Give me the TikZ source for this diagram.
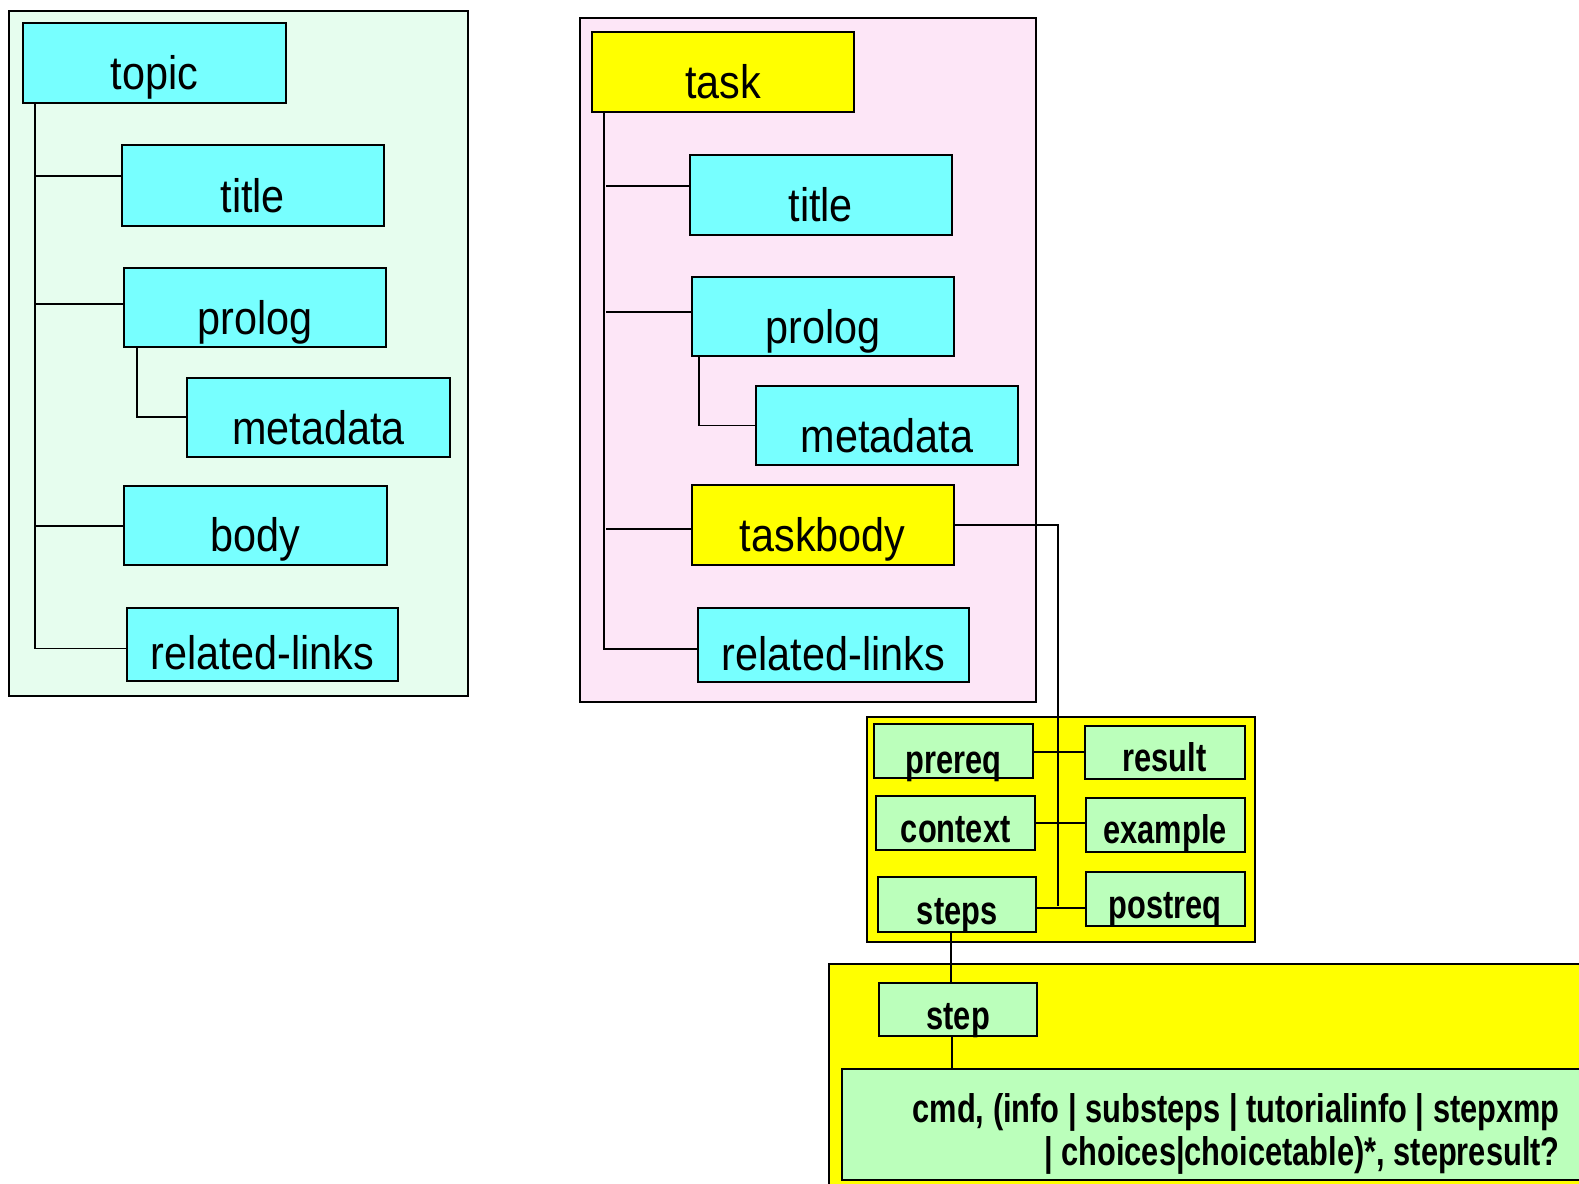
\documentclass[tikz,border=0pt]{standalone}
\usepackage{fontspec}
\newfontfamily\lblfont{Liberation Sans}[FakeStretch=0.88]
\newfontfamily\boldlblfont{Liberation Sans}[FakeStretch=0.77]
\definecolor{cyanbox}{RGB}{119,255,255}
\definecolor{greenbg}{RGB}{230,253,238}
\definecolor{pinkbg}{RGB}{253,230,247}
\definecolor{ylw}{RGB}{255,255,0}
\definecolor{greenbox}{RGB}{187,255,187}
\def\sc{1.007}
\newcommand\bx[8]{%
  \pgfmathsetmacro\bxw{(#5-#3)*\sc}\pgfmathsetmacro\bxh{(#6-#4)*\sc}\pgfmathsetmacro\bxth{(#6-#4-2*#7)*\sc}%
  \node[#2, minimum width=\bxw pt, minimum height=\bxh pt, text height=\bxth pt, text depth=0pt]
    (#1) at ({(#3+#5)/2},{(#4+#6)/2}) {#8};}
\tikzset{
  panel/.style={draw, line width=2pt, rectangle, inner sep=0pt},
  bigbox/.style={draw, line width=2pt, rectangle, inner sep=0pt, font=\lblfont\fontsize{47}{51}\selectfont},
  smallbox/.style={draw, line width=2pt, rectangle, inner sep=0pt, fill=greenbox, font=\boldlblfont\bfseries\fontsize{40}{44}\selectfont},
  conn/.style={line width=1.9pt},
  cmdtxt/.style={inner sep=0pt, font=\boldlblfont\bfseries\fontsize{40}{44}\selectfont}
}
\begin{document}
\begin{tikzpicture}[x=1.007pt,y=-1.007pt]
\useasboundingbox (0,0) rectangle (1568,1174.8);
% ---------- left panel ----------
\bx{lpanel}{panel, fill=greenbg}{9}{11}{465}{691}{0}{}
\bx{topic}{bigbox, fill=cyanbox}{23}{23}{284}{102}{13}{topic}
\bx{ltitle}{bigbox, fill=cyanbox}{121}{144}{381}{224}{13}{title}
\bx{lprolog}{bigbox, fill=cyanbox}{123}{266}{383}{345}{13}{prolog}
\bx{lmeta}{bigbox, fill=cyanbox}{186}{375}{447}{454}{13}{metadata}
\bx{lbody}{bigbox, fill=cyanbox}{123}{483}{384}{561}{13}{body}
\bx{lrl}{bigbox, fill=cyanbox}{126}{604}{395}{676}{11}{related-links}
\coordinate (ltrunk) at (35,102);
\draw[conn] (ltrunk) |- ([yshift=-4pt]lrl.west);
\draw[conn] (ltitle.west) ++(0,-9) -- ++(-84,0);
\draw[conn] (lprolog.west) ++(0,-4) -- ++(-86,0);
\draw[conn] (lbody.west) -- (lbody.west -| ltrunk);
\draw[conn] (lprolog.south west) ++(14,0) |- (lmeta.west);
% ---------- middle panel ----------
\bx{mpanel}{panel, fill=pinkbg}{576}{18}{1029}{697}{0}{}
\bx{task}{bigbox, fill=ylw}{588}{32}{848}{111}{13}{task}
\bx{mtitle}{bigbox, fill=cyanbox}{685}{154}{945}{233}{13}{title}
\bx{mprolog}{bigbox, fill=cyanbox}{687}{275}{947}{354}{13}{prolog}
\bx{mmeta}{bigbox, fill=cyanbox}{751}{383}{1011}{462}{13}{metadata}
\bx{taskbody}{bigbox, fill=ylw}{687}{482}{947}{561}{13}{taskbody}
\bx{mrl}{bigbox, fill=cyanbox}{693}{604}{962}{677}{11}{related-links}
\coordinate (mtrunk) at (600,111);
\draw[conn] (mtrunk) |- ([yshift=-4pt]mrl.west);
\draw[conn] (mtitle.west) ++(0,-9) -- ++(-82,0);
\draw[conn] (mprolog.west) ++(0,-5) -- ++(-84,0);
\draw[conn] (taskbody.west) ++(0,4) -- ++(-84,0);
\draw[conn] (mprolog.south west) ++(8,0) |- (mmeta.west);
% ---------- steps panel ----------
\bx{spanel}{panel, fill=ylw}{861}{712}{1246}{935}{0}{}
\bx{prereq}{smallbox}{868}{719}{1026}{773}{5}{prereq}
\bx{context}{smallbox}{870}{790}{1028}{844}{7}{context}
\bx{steps}{smallbox}{872}{871}{1029}{925}{7}{steps}
\bx{result}{smallbox}{1077}{721}{1236}{774}{8}{result}
\bx{example}{smallbox}{1078}{792}{1236}{846}{8}{example}
\bx{postreq}{smallbox}{1078}{866}{1236}{920}{8}{postreq}
\coordinate (sjoin) at (1051,900);
\draw[conn] (taskbody.east) -| (sjoin);
\draw[conn] ([yshift=-1pt]prereq.east) -- ([yshift=-1pt]prereq.east -| result.west);
\draw[conn] (context.east) -- (context.east -| example.west);
\draw[conn] ([yshift=-4pt]steps.east) -- ([yshift=-4pt]steps.east -| postreq.west);
% ---------- step panel ----------
\bx{lowpanel}{panel, fill=ylw}{823}{957}{1600}{1200}{0}{}
\bx{step}{smallbox}{873}{976}{1030}{1029}{7}{step}
\bx{cmd}{smallbox}{836}{1062}{1600}{1172}{0}{}
\node[cmdtxt, anchor=base east] (cmdA) at (1549,1115) {cmd, (info | substeps | tutorialinfo | stepxmp};
\node[cmdtxt, anchor=base east] (cmdB) at (1549,1157) {| choices|choicetable)*, stepresult?};
\draw[conn] (steps.south -| 944,0) -- (step.north -| 944,0);
\draw[conn] (step.south -| 945,0) -- (cmd.north -| 945,0);
\end{tikzpicture}
\end{document}
